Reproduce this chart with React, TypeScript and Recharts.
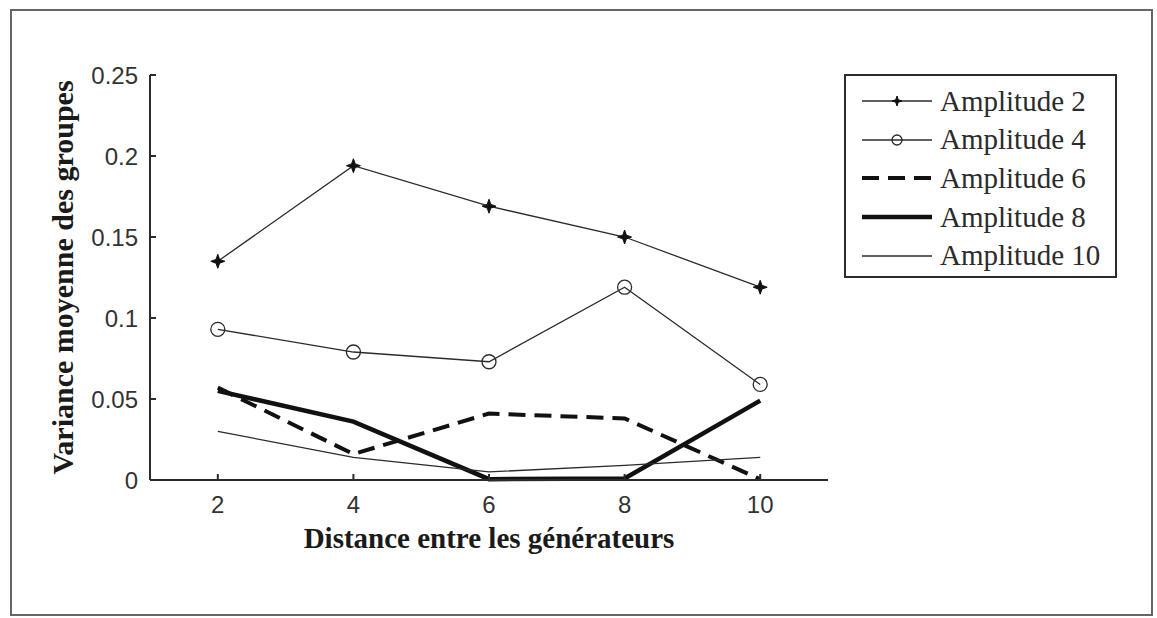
import { LineChart, Line, XAxis, YAxis, Legend } from 'recharts';

// distance between generators (x) and mean group variance per amplitude
const distances = [2, 4, 6, 8, 10];
const amplitude2 = [0.135, 0.194, 0.169, 0.15, 0.119];
const amplitude4 = [0.093, 0.079, 0.073, 0.119, 0.059];
const amplitude6 = [0.057, 0.016, 0.041, 0.038, 0.0005];
const amplitude8 = [0.055, 0.036, 0.0005, 0.001, 0.049];
const amplitude10 = [0.03, 0.014, 0.005, 0.009, 0.014];

const xTicks = [2, 4, 6, 8, 10];
const yTicks = [0, 0.05, 0.1, 0.15, 0.2, 0.25];

const data = distances.map((d, i) => ({
  distance: d,
  a2: amplitude2[i],
  a4: amplitude4[i],
  a6: amplitude6[i],
  a8: amplitude8[i],
  a10: amplitude10[i],
}));

const INK = '#2b2b2b';
const SERIF = '"Liberation Serif", "Times New Roman", serif';
const SANS = '"Liberation Sans", Arial, sans-serif';

type Marker = 'star' | 'circle' | 'none';

const series: { key: string; name: string; width: number; color: string; dash?: string; marker: Marker }[] = [
  { key: 'a2', name: 'Amplitude 2', width: 1.3, color: INK, marker: 'star' },
  { key: 'a4', name: 'Amplitude 4', width: 1.3, color: INK, marker: 'circle' },
  { key: 'a6', name: 'Amplitude 6', width: 4, color: '#111', dash: '17 9', marker: 'none' },
  { key: 'a8', name: 'Amplitude 8', width: 4.5, color: '#111', marker: 'none' },
  { key: 'a10', name: 'Amplitude 10', width: 1.3, color: INK, marker: 'none' },
];

const starPath = (cx: number, cy: number, R: number, r: number) => {
  const pts: string[] = [];
  for (let k = 0; k < 8; k++) {
    const ang = (Math.PI / 4) * k;
    const rad = k % 2 === 0 ? R : r;
    pts.push(`${cx + rad * Math.cos(ang)},${cy + rad * Math.sin(ang)}`);
  }
  return `M${pts.join('L')}Z`;
};

const MarkerShape = ({ type, cx, cy, small }: { type: Marker; cx: number; cy: number; small?: boolean }) => {
  if (type === 'star') {
    return <path d={starPath(cx, cy, small ? 5 : 7, small ? 1.8 : 2.6)} fill="#111" stroke="#111" strokeWidth={1} />;
  }
  if (type === 'circle') {
    return <circle cx={cx} cy={cy} r={small ? 5 : 7} fill="none" stroke={INK} strokeWidth={1.3} />;
  }
  return null;
};

const makeDot = (type: Marker) => {
  if (type === 'none') return false;
  return (props: any) => (
    <g key={`dot-${type}-${props.index}`}>
      <MarkerShape type={type} cx={props.cx} cy={props.cy} />
    </g>
  );
};

// legend keeps the series declaration order
const LegendBox = () => (
  <div
    style={{
      border: `2px solid ${INK}`,
      width: 273,
      height: 204,
      boxSizing: 'border-box',
      padding: '6px 0 0 0',
      background: '#fff',
    }}
  >
    {series.map((s) => (
      <div key={s.key} style={{ display: 'flex', alignItems: 'center', height: 38.6 }}>
        <svg width={86} height={20} style={{ flex: 'none', marginLeft: 14 }}>
          <line x1={2} y1={10} x2={72} y2={10} stroke={s.color} strokeWidth={s.width} strokeDasharray={s.dash} />
          <MarkerShape type={s.marker} cx={37} cy={10} small />
        </svg>
        <span style={{ fontFamily: SERIF, fontSize: 29, color: INK, lineHeight: 1, marginLeft: -6 }}>{s.name}</span>
      </div>
    ))}
  </div>
);

export default function App() {
  return (
    <div style={{ position: 'absolute', left: 0, top: 0, width: 1157, height: 618, background: '#fff' }}>
      <div
        style={{
          position: 'absolute',
          left: 10,
          top: 9,
          width: 1143,
          height: 607,
          border: '2px solid #666',
          boxSizing: 'border-box',
        }}
      />
      <LineChart
        width={1157}
        height={618}
        data={data}
        margin={{ top: 75, right: 329, bottom: 10, left: 10 }}
        style={{ position: 'absolute', left: 0, top: 0 }}
      >
        <XAxis
          dataKey="distance"
          type="number"
          domain={[1, 11]}
          ticks={xTicks}
          height={128}
          stroke={INK}
          strokeWidth={2}
          tickSize={-6}
          tickMargin={22}
          tick={{ fill: '#333', fontSize: 24, fontFamily: SANS }}
          label={{
            value: 'Distance entre les générateurs',
            position: 'insideTop',
            offset: 47,
            style: { fontFamily: SERIF, fontWeight: 'bold', fontSize: 29, fill: '#1a1a1a' },
          }}
        />
        <XAxis
          xAxisId="top"
          orientation="top"
          dataKey="distance"
          type="number"
          domain={[1, 11]}
          ticks={xTicks}
          height={0}
          stroke={INK}
          strokeWidth={2}
          tickSize={-6}
          tickFormatter={() => ''}
        />
        <YAxis
          type="number"
          domain={[0, 0.25]}
          ticks={yTicks}
          width={140}
          stroke={INK}
          strokeWidth={2}
          tickSize={-6}
          tickMargin={18}
          tickFormatter={(v: number) => String(v)}
          tick={{ fill: '#333', fontSize: 24, fontFamily: SANS }}
          label={{
            value: 'Variance moyenne des groupes',
            angle: -90,
            position: 'insideLeft',
            offset: 52,
            style: { textAnchor: 'middle', fontFamily: SERIF, fontWeight: 'bold', fontSize: 30, fill: '#1a1a1a' },
          }}
        />
        <YAxis
          yAxisId="right"
          orientation="right"
          type="number"
          domain={[0, 0.25]}
          ticks={yTicks}
          width={0}
          stroke={INK}
          strokeWidth={2}
          tickSize={-6}
          tickFormatter={() => ''}
        />
        <Legend
          layout="horizontal"
          verticalAlign="middle"
          align="center"
          content={<LegendBox />}
          wrapperStyle={{ left: 844, top: 74, width: 273, height: 204 }}
        />
        {series.map((s) => (
          <Line
            key={s.key}
            dataKey={s.key}
            name={s.name}
            type="linear"
            stroke={s.color}
            strokeWidth={s.width}
            strokeDasharray={s.dash}
            strokeLinejoin="miter"
            dot={makeDot(s.marker)}
            activeDot={false}
            isAnimationActive={false}
          />
        ))}
      </LineChart>
    </div>
  );
}
